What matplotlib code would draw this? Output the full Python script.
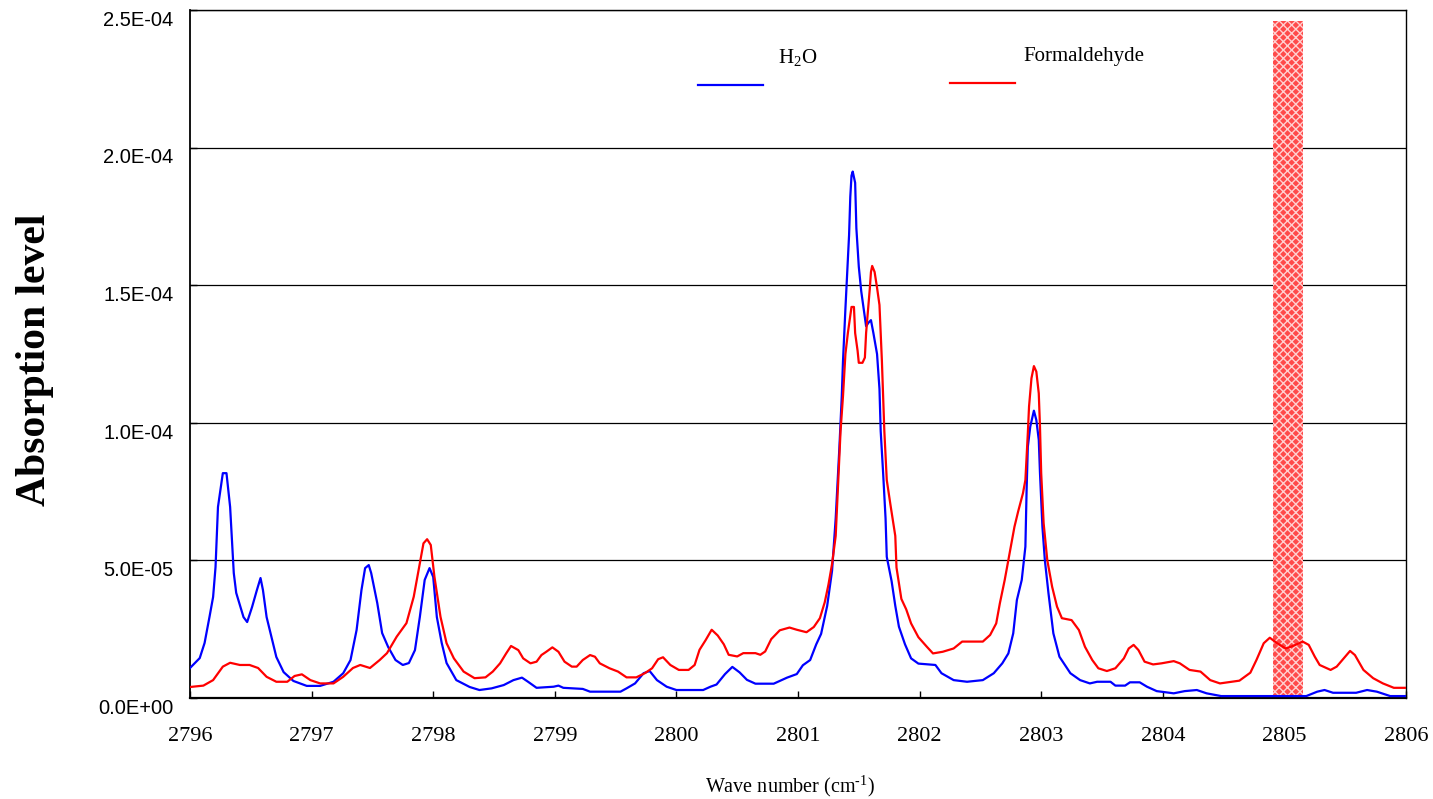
import matplotlib
matplotlib.use("Agg")
import matplotlib.pyplot as plt
import matplotlib.transforms as mtransforms
import numpy as np

plt.rcParams['mathtext.fontset'] = 'custom'
plt.rcParams['mathtext.rm'] = 'Liberation Serif'
plt.rcParams['mathtext.default'] = 'regular'

# ---- data (wave number cm-1, absorption in units of 1e-6) ----
h2o_x = [2796.00, 2796.08, 2796.12, 2796.16, 2796.19, 2796.21, 2796.23, 2796.27, 2796.30, 2796.33,
         2796.36, 2796.38, 2796.44, 2796.47, 2796.51, 2796.55, 2796.58, 2796.60, 2796.63, 2796.67,
         2796.71, 2796.77, 2796.85, 2796.96, 2797.07, 2797.18, 2797.26, 2797.32, 2797.37, 2797.41,
         2797.44, 2797.47, 2797.49, 2797.54, 2797.58, 2797.63, 2797.69, 2797.75, 2797.80, 2797.85,
         2797.89, 2797.93, 2797.97, 2798.00, 2798.03, 2798.07, 2798.11, 2798.19, 2798.30, 2798.38,
         2798.48, 2798.58, 2798.66, 2798.73, 2798.78, 2798.85, 2798.99, 2799.03, 2799.07, 2799.23,
         2799.29, 2799.54, 2799.59, 2799.66, 2799.73, 2799.78, 2799.84, 2799.92, 2800.00, 2800.22,
         2800.28, 2800.33, 2800.40, 2800.46, 2800.52, 2800.58, 2800.65, 2800.80, 2800.91, 2800.99,
         2801.04, 2801.10, 2801.15, 2801.19, 2801.24, 2801.28, 2801.31, 2801.34, 2801.36, 2801.37,
         2801.39, 2801.41, 2801.42, 2801.43, 2801.44, 2801.45, 2801.47, 2801.48, 2801.50, 2801.52,
         2801.54, 2801.56, 2801.58, 2801.60, 2801.62, 2801.65, 2801.67, 2801.68, 2801.70, 2801.72,
         2801.73, 2801.77, 2801.80, 2801.83, 2801.88, 2801.93, 2801.99, 2802.13, 2802.18, 2802.28,
         2802.39, 2802.52, 2802.61, 2802.68, 2802.73, 2802.77, 2802.80, 2802.84, 2802.87, 2802.88,
         2802.89, 2802.91, 2802.94, 2802.96, 2802.98, 2802.99, 2803.01, 2803.03, 2803.06, 2803.10,
         2803.15, 2803.24, 2803.32, 2803.40, 2803.46, 2803.57, 2803.61, 2803.69, 2803.73, 2803.81,
         2803.87, 2803.95, 2804.09, 2804.18, 2804.28, 2804.36, 2804.48, 2805.18, 2805.27, 2805.33,
         2805.40, 2805.59, 2805.68, 2805.76, 2805.87, 2806.00]
h2o_y = [10.9, 14.5, 20.0, 29.4, 36.7, 47.6, 69.4, 81.7, 81.7, 69.4,
         45.4, 38.2, 29.4, 27.6, 33.0, 39.2, 43.6, 39.2, 29.4, 22.2,
         14.9, 9.4, 6.2, 4.4, 4.4, 5.9, 9.0, 13.8, 24.7, 39.2,
         47.2, 48.3, 45.4, 34.5, 23.6, 18.5, 13.8, 12.0, 12.7, 17.4,
         29.4, 42.9, 47.2, 44.0, 29.4, 20.0, 12.7, 6.5, 4.0, 2.9,
         3.5, 4.7, 6.5, 7.4, 5.9, 3.7, 4.1, 4.5, 3.7, 3.3,
         2.3, 2.3, 3.5, 5.3, 9.0, 9.8, 6.5, 4.1, 2.9, 2.9,
         4.1, 4.9, 8.7, 11.3, 9.3, 6.6, 5.2, 5.2, 7.4, 8.7,
         11.9, 13.8, 19.5, 23.3, 33.5, 46.2, 65.3, 90.7, 109.7, 122.4,
         141.5, 159.3, 168.2, 182.1, 189.8, 191.3, 187.2, 170.7, 156.7, 147.8,
         141.5, 135.1, 136.4, 137.3, 132.6, 125.0, 112.3, 97.0, 81.8, 65.3,
         51.3, 42.4, 33.5, 25.9, 19.5, 14.4, 12.5, 12.0, 9.0, 6.5,
         5.9, 6.5, 9.0, 12.6, 16.2, 23.5, 35.6, 42.9, 55.0, 75.6,
         91.3, 98.6, 104.4, 101.0, 93.8, 81.7, 62.2, 50.1, 38.0, 23.5,
         15.0, 9.0, 6.5, 5.3, 5.9, 5.9, 4.5, 4.5, 5.7, 5.7,
         4.1, 2.5, 1.7, 2.5, 2.9, 1.7, 0.7, 0.7, 2.3, 2.9,
         1.9, 1.9, 2.9, 2.3, 0.7, 0.7]

hcho_x = [2796.00, 2796.11, 2796.19, 2796.27, 2796.33, 2796.41, 2796.49, 2796.56, 2796.63, 2796.71,
          2796.80, 2796.86, 2796.92, 2796.99, 2797.07, 2797.18, 2797.26, 2797.34, 2797.40, 2797.48,
          2797.56, 2797.62, 2797.70, 2797.78, 2797.84, 2797.88, 2797.92, 2797.95, 2797.98, 2798.01,
          2798.06, 2798.11, 2798.17, 2798.25, 2798.34, 2798.43, 2798.49, 2798.55, 2798.60, 2798.64,
          2798.70, 2798.74, 2798.80, 2798.85, 2798.89, 2798.93, 2798.98, 2799.03, 2799.08, 2799.14,
          2799.18, 2799.23, 2799.29, 2799.33, 2799.37, 2799.45, 2799.52, 2799.59, 2799.67, 2799.74,
          2799.80, 2799.85, 2799.89, 2799.95, 2800.02, 2800.10, 2800.15, 2800.19, 2800.24, 2800.29,
          2800.34, 2800.39, 2800.43, 2800.50, 2800.55, 2800.65, 2800.69, 2800.73, 2800.78, 2800.85,
          2800.93, 2800.99, 2801.07, 2801.13, 2801.18, 2801.22, 2801.25, 2801.28, 2801.31, 2801.33,
          2801.35, 2801.37, 2801.39, 2801.41, 2801.44, 2801.46, 2801.47, 2801.49, 2801.50, 2801.53,
          2801.55, 2801.56, 2801.59, 2801.60, 2801.61, 2801.63, 2801.65, 2801.67, 2801.69, 2801.71,
          2801.73, 2801.76, 2801.80, 2801.81, 2801.85, 2801.89, 2801.93, 2801.99, 2802.06, 2802.11,
          2802.19, 2802.28, 2802.35, 2802.52, 2802.58, 2802.63, 2802.66, 2802.70, 2802.74, 2802.78,
          2802.81, 2802.85, 2802.87, 2802.89, 2802.90, 2802.92, 2802.94, 2802.96, 2802.98, 2802.99,
          2803.00, 2803.02, 2803.05, 2803.09, 2803.13, 2803.17, 2803.25, 2803.31, 2803.36, 2803.42,
          2803.47, 2803.54, 2803.61, 2803.68, 2803.72, 2803.76, 2803.80, 2803.85, 2803.92, 2803.99,
          2804.09, 2804.14, 2804.22, 2804.31, 2804.39, 2804.47, 2804.63, 2804.72, 2804.77, 2804.83,
          2804.88, 2804.94, 2805.01, 2805.07, 2805.15, 2805.20, 2805.25, 2805.29, 2805.38, 2805.43,
          2805.50, 2805.54, 2805.58, 2805.65, 2805.73, 2805.81, 2805.90, 2806.00]
hcho_y = [4.0, 4.5, 6.5, 11.4, 12.8, 12.0, 12.0, 10.9, 7.7, 5.9,
          5.9, 8.0, 8.6, 6.5, 5.3, 5.3, 7.7, 10.9, 12.0, 10.9,
          13.8, 16.3, 22.3, 27.2, 36.8, 46.5, 56.2, 57.7, 55.6, 44.1,
          29.5, 19.9, 14.4, 9.6, 7.2, 7.5, 9.6, 12.6, 16.2, 18.9,
          17.4, 14.4, 12.6, 13.2, 15.6, 16.8, 18.4, 16.8, 13.2, 11.4,
          11.4, 13.8, 15.6, 15.0, 12.6, 10.8, 9.6, 7.5, 7.5, 9.0,
          10.8, 14.1, 14.8, 12.0, 10.2, 10.2, 12.0, 17.5, 21.0, 24.8,
          22.7, 19.5, 15.7, 15.1, 16.3, 16.3, 15.7, 16.9, 21.4, 24.6,
          25.6, 24.8, 23.9, 25.8, 29.0, 34.8, 41.1, 48.7, 58.9, 78.0,
          97.0, 109.7, 125.0, 132.6, 142.1, 142.1, 132.6, 126.2, 121.8, 121.8,
          123.7, 132.6, 148.5, 154.8, 157.0, 154.8, 149.1, 142.8, 122.4, 97.0,
          79.2, 70.3, 58.9, 47.4, 36.0, 32.2, 27.1, 22.1, 18.6, 16.2,
          16.8, 18.0, 20.5, 20.5, 22.9, 27.1, 34.4, 42.9, 52.6, 62.2,
          67.7, 74.4, 79.2, 96.2, 105.9, 116.2, 120.6, 118.6, 110.7, 98.6,
          81.7, 63.5, 50.1, 40.4, 33.2, 29.0, 28.3, 24.7, 18.6, 13.8,
          10.8, 9.8, 10.8, 14.4, 18.0, 19.3, 17.4, 13.2, 12.2, 12.6,
          13.4, 12.6, 10.2, 9.6, 6.5, 5.3, 6.3, 9.2, 13.8, 19.9,
          21.9, 19.9, 18.0, 18.9, 20.5, 19.3, 15.0, 12.0, 10.2, 11.4,
          15.0, 17.1, 15.6, 10.2, 7.2, 5.3, 3.7, 3.7]

band_range = [2804.91, 2805.15]
band_top = 2.46e-4
x_ticks = [2796, 2797, 2798, 2799, 2800, 2801, 2802, 2803, 2804, 2805, 2806]
y_ticks = [0.0, 5.0e-5, 1.0e-4, 1.5e-4, 2.0e-4, 2.5e-4]
y_tick_labels = ["0.0E+00", "5.0E-05", "1.0E-04", "1.5E-04", "2.0E-04", "2.5E-04"]
series_labels = ["H$_2$O", "Formaldehyde"]
series_colors = ["#0000ff", "#ff0000"]

W, H = 1433, 799
fig = plt.figure(figsize=(W / 100, H / 100), dpi=100)
ax = fig.add_axes([190 / W, 1 - 698 / H, (1406 - 190) / W, (698 - 10) / H])

scale = 1e-6
ax.fill_between(band_range, [0, 0], [band_top, band_top], facecolor="#ff4a4a",
                edgecolor="#ffd0d0", hatch="xxxx", linewidth=0, zorder=1)
ax.plot(h2o_x, np.array(h2o_y) * scale, color=series_colors[0], lw=1.6, zorder=3)
ax.plot(hcho_x, np.array(hcho_y) * scale, color=series_colors[1], lw=1.6, zorder=3)

ax.set_xlim(2796, 2806)
ax.set_ylim(0, 2.5e-4)
ax.set_xticks(x_ticks)
ax.set_xticklabels([str(t) for t in x_ticks], fontfamily="Liberation Serif", fontsize=16)
ax.set_yticks(y_ticks)
ax.set_yticklabels(y_tick_labels, fontfamily="Liberation Sans", fontsize=14.5)
ax.tick_params(axis="x", direction="in", length=5, width=1, pad=21, color="black")
ax.tick_params(axis="y", direction="in", length=5, width=1, pad=12, color="black")
offset = mtransforms.ScaledTranslation(0, -6 / 72, fig.dpi_scale_trans)
for lab in ax.get_yticklabels():
    lab.set_transform(lab.get_transform() + offset)

ax.grid(axis="y", color="black", linewidth=0.9)
ax.set_axisbelow(True)
for s in ax.spines.values():
    s.set_color("black")
    s.set_linewidth(1.0)
ax.spines["bottom"].set_linewidth(1.6)
ax.spines["left"].set_linewidth(1.3)

# legend drawn as in the original (line below-left of label)
def fx(px):
    return (px - 190) / 1216
def fy(py):
    return (698 - py) / 688

ax.plot([fx(698), fx(763)], [fy(85), fy(85)], transform=ax.transAxes, color=series_colors[0],
        lw=1.6, clip_on=False)
ax.text(fx(778), fy(58), series_labels[0], transform=ax.transAxes, fontfamily="Liberation Serif",
        fontsize=15, ha="left", va="center")
ax.plot([fx(950), fx(1015)], [fy(83), fy(83)], transform=ax.transAxes, color=series_colors[1],
        lw=1.6, clip_on=False)
ax.text(fx(1023), fy(57), series_labels[1], transform=ax.transAxes, fontfamily="Liberation Serif",
        fontsize=15, ha="left", va="center")

fig.text(35 / W, 1 - 360 / H, "Absorption level", rotation=90, fontfamily="Liberation Serif",
         fontweight="bold", fontsize=30, ha="center", va="center")
fig.text(790 / W, 1 - 786 / H, r"Wave number (cm$^{\text{-}1}$)", fontfamily="Liberation Serif",
         fontsize=14.5, ha="center", va="center")

fig.savefig("out.png", dpi=100)
